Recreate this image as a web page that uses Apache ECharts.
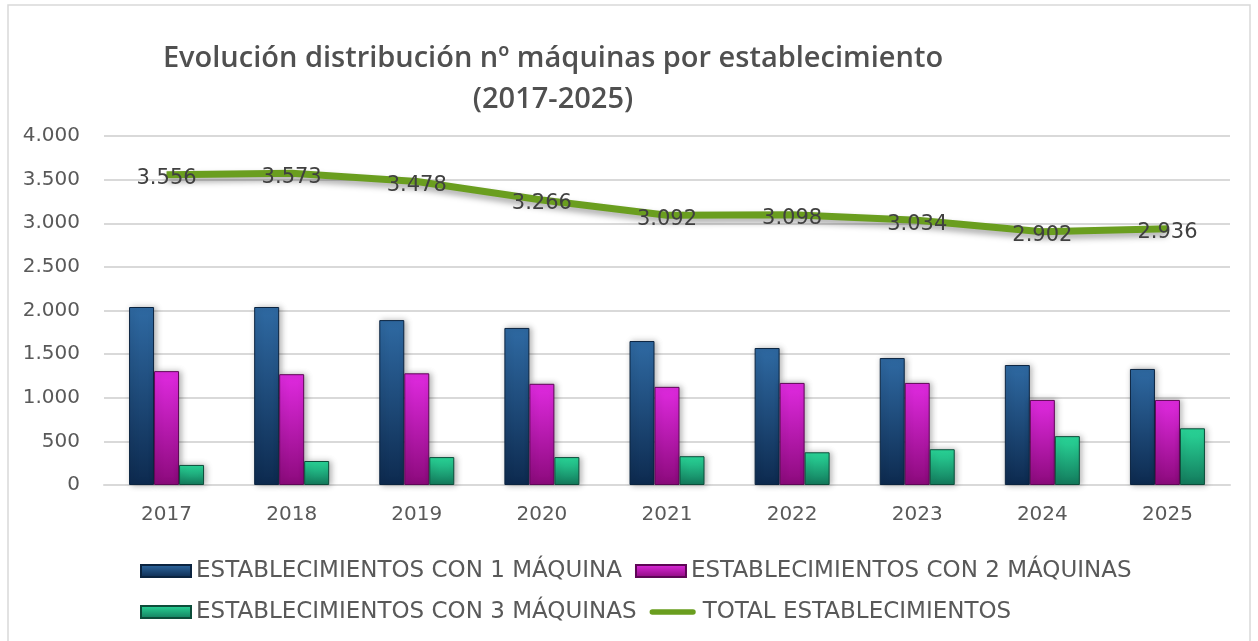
<!DOCTYPE html>
<html>
<head>
    <meta charset="utf-8">
    <title>Evolución máquinas</title>
    <style>
        body { margin: 0; background: #fff; }
    </style>
</head>
<body>
    <div id="main" style="width: 1258px;height:641px;"></div>

    <script src="https://cdnjs.cloudflare.com/ajax/libs/echarts/6.0.0/echarts.min.js"></script>
    <script>
        // datos
        var years = ['2017', '2018', '2019', '2020', '2021', '2022', '2023', '2024', '2025'];
        var unaMaquina = [2040, 2040, 1890, 1800, 1650, 1570, 1455, 1375, 1330];
        var dosMaquinas = [1305, 1270, 1280, 1160, 1125, 1170, 1170, 975, 975];
        var tresMaquinas = [230, 275, 320, 320, 330, 375, 410, 560, 650];
        var totalEst = [3556, 3573, 3478, 3266, 3092, 3098, 3034, 2902, 2936];
        var yTicks = [0, 500, 1000, 1500, 2000, 2500, 3000, 3500, 4000];

        var fuente = '"DejaVu Sans", sans-serif';

        function miles(v) {
            return String(v).replace(/\B(?=(\d{3})+(?!\d))/g, '.');
        }

        function barra(arriba, abajo) {
            return new echarts.graphic.LinearGradient(0, 0, 0, 1, [
                { offset: 0, color: arriba },
                { offset: 1, color: abajo }
            ]);
        }

        var myChart = echarts.init(document.getElementById('main'));

        var option = {
            backgroundColor: '#fff',
            textStyle: { fontFamily: fuente },
            title: {
                text: 'Evolución distribución nº máquinas por establecimiento\n(2017-2025)',
                left: 548,
                top: 33,
                textAlign: 'center',
                textStyle: {
                    fontFamily: '"Open Sans", sans-serif',
                    fontSize: 29,
                    fontWeight: 600,
                    color: '#505050',
                    lineHeight: 41
                }
            },
            graphic: [{
                type: 'rect',
                shape: { x: 8, y: 5, width: 1242, height: 640 },
                style: { fill: 'none', stroke: '#d9d9d9', lineWidth: 1.5 },
                silent: true
            }],
            grid: {
                left: 104,
                right: 28,
                top: 136,
                bottom: 156
            },
            legend: {
                left: 135,
                top: 552,
                width: 1080,
                itemWidth: 50,
                itemHeight: 12,
                itemGap: 13,
                textStyle: { fontSize: 23, lineHeight: 28, color: '#595959', fontFamily: fuente },
                data: [
                    { name: 'ESTABLECIMIENTOS CON 1 MÁQUINA', icon: 'rect' },
                    { name: 'ESTABLECIMIENTOS CON 2 MÁQUINAS', icon: 'rect' },
                    { name: 'ESTABLECIMIENTOS CON 3 MÁQUINAS', icon: 'rect' },
                    {
                        name: 'TOTAL ESTABLECIMIENTOS',
                        icon: 'path://M0,0L0.01,0Z M3,3.5L47,3.5A3,3 0 0 1 47,9.5L3,9.5A3,3 0 0 1 3,3.5Z M0,13L0.01,13Z'
                    }
                ]
            },
            xAxis: {
                type: 'category',
                data: years,
                axisTick: { show: false },
                axisLine: { lineStyle: { color: '#d9d9d9', width: 2 } },
                axisLabel: { fontSize: 20, color: '#595959', margin: 20 }
            },
            yAxis: {
                type: 'value',
                min: yTicks[0],
                max: yTicks[yTicks.length - 1],
                interval: 500,
                axisLabel: {
                    fontSize: 20,
                    color: '#595959',
                    margin: 24,
                    formatter: function (v) { return miles(v); }
                },
                splitLine: { lineStyle: { color: '#d9d9d9', width: 2 } }
            },
            series: [{
                name: 'ESTABLECIMIENTOS CON 1 MÁQUINA',
                type: 'bar',
                data: unaMaquina,
                barWidth: 25,
                barGap: '0%',
                itemStyle: {
                    color: barra('#2f6aa3', '#0d2a4f'),
                    borderColor: '#0b2440',
                    borderWidth: 1,
                    shadowColor: 'rgba(0,0,0,0.3)',
                    shadowBlur: 6,
                    shadowOffsetX: 2
                }
            }, {
                name: 'ESTABLECIMIENTOS CON 2 MÁQUINAS',
                type: 'bar',
                data: dosMaquinas,
                barWidth: 25,
                barGap: '0%',
                itemStyle: {
                    color: barra('#e02ae0', '#8c0a7c'),
                    borderColor: '#5e0656',
                    borderWidth: 1,
                    shadowColor: 'rgba(0,0,0,0.3)',
                    shadowBlur: 6,
                    shadowOffsetX: 2
                }
            }, {
                name: 'ESTABLECIMIENTOS CON 3 MÁQUINAS',
                type: 'bar',
                data: tresMaquinas,
                barWidth: 25,
                barGap: '0%',
                itemStyle: {
                    color: barra('#2ad99a', '#137a5c'),
                    borderColor: '#0c4d3a',
                    borderWidth: 1,
                    shadowColor: 'rgba(0,0,0,0.3)',
                    shadowBlur: 6,
                    shadowOffsetX: 2
                }
            }, {
                name: 'TOTAL ESTABLECIMIENTOS',
                type: 'line',
                data: totalEst,
                symbol: 'circle',
                symbolSize: 1,
                showSymbol: true,
                lineStyle: {
                    color: '#6a9e1f',
                    width: 7,
                    shadowColor: 'rgba(0,0,0,0.35)',
                    shadowBlur: 6,
                    shadowOffsetY: 4
                },
                itemStyle: { color: '#6a9e1f' },
                label: {
                    show: true,
                    position: 'top',
                    distance: 0,
                    offset: [0, 15],
                    fontSize: 21,
                    color: '#404040',
                    formatter: function (p) { return miles(p.value); }
                },
                z: 5
            }]
        };

        myChart.setOption(option);
    </script>
</body>
</html>
